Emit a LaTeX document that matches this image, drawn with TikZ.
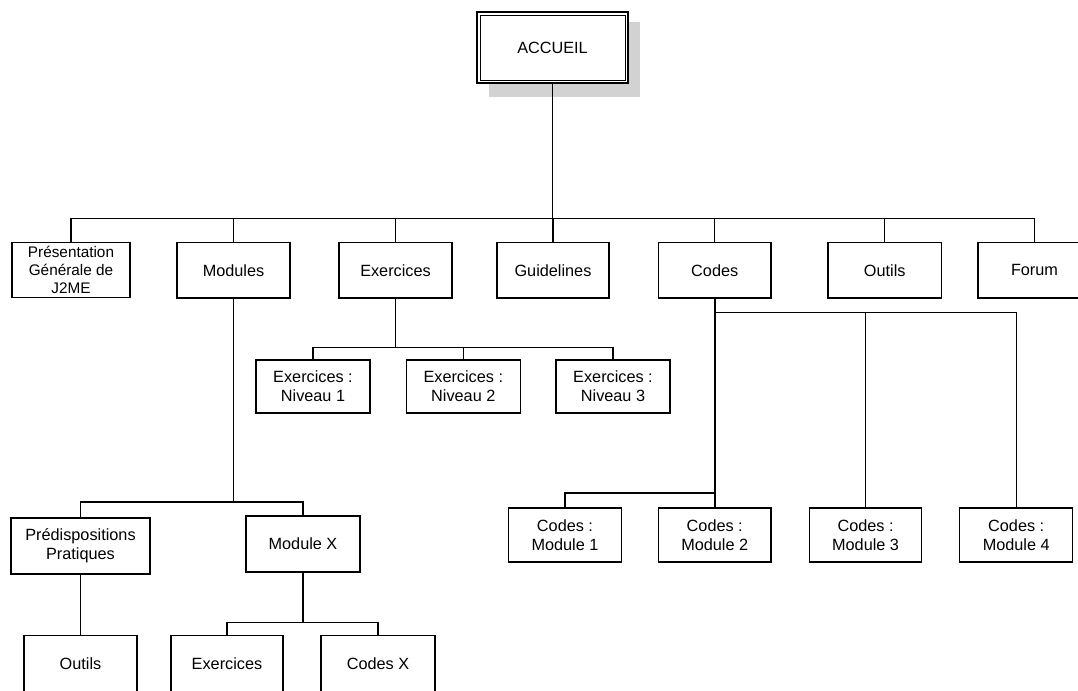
\documentclass[tikz,border=0pt]{standalone}
\usepackage{fontspec}
\setmainfont{Liberation Sans}
\begin{document}
\begin{tikzpicture}[x=0.75pt,y=-0.75pt,
  box/.style={draw, line width=0.8pt, inner sep=0pt, align=center,
              font=\fontsize{12.2}{14.25}\selectfont},
  sz/.style 2 args={minimum width=#1*0.75pt, minimum height=#2*0.75pt},
  link/.style={line width=0.85pt},
  trunk/.style={line width=1.45pt}]
\useasboundingbox (0,0) rectangle (1078,690);
\clip (0,0) rectangle (1078,690);

% home page with its drop shadow and double frame
\fill[gray!35] (489,22) rectangle (640,97);
\node[box, sz={151}{71}, line width=1.5pt, fill=white] (acc) at (552.5,47.5) {ACCUEIL};
\draw[line width=0.6pt] ([shift={(4,4)}]acc.north west) rectangle ([shift={(-4,-4)}]acc.south east);

% first level
\node[box, sz={118}{55.5}, font=\fontsize{11.5}{13.7}\selectfont] (pres) at (71,270) {Présentation\\Générale de\\J2ME};
\node[box, sz={113}{55.5}] (mod)    at (233.5,270.25) {Modules};
\node[box, sz={113}{55.5}] (exe)    at (395.5,270.25) {Exercices};
\node[box, sz={112}{55.5}] (gui)    at (553,270.25)   {Guidelines};
\node[box, sz={112.5}{55.5}] (codes) at (714.75,270.25) {Codes};
\node[box, sz={113.5}{55.5}] (outils) at (884.75,270.25) {Outils};
\node[box, sz={113}{55.5}] (forum)  at (1034.5,270.25) {Forum};

% exercise levels
\node[box, sz={114}{53}] (en1) at (313,386.5)   {Exercices :\\Niveau 1};
\node[box, sz={114}{53}] (en2) at (463.3,386.5) {Exercices :\\Niveau 2};
\node[box, sz={114}{53}] (en3) at (613,386.5)   {Exercices :\\Niveau 3};

% modules branch
\node[box, sz={139}{56}] (pred) at (80.5,546) {Prédispositions\\Pratiques};
\node[box, sz={114}{56}] (modx) at (303,544)  {Module X};
\node[box, sz={113}{56}] (out2) at (80.5,663.5) {Outils};
\node[box, sz={112}{56}] (ex2)  at (227,663.5)  {Exercices};
\node[box, sz={114}{56}] (cx)   at (378,663.5)  {Codes X};

% code samples per module
\node[box, sz={112.5}{54}] (cm1) at (565,535)     {Codes :\\Module 1};
\node[box, sz={112.5}{54}] (cm2) at (714.75,535)  {Codes :\\Module 2};
\node[box, sz={112.5}{54}] (cm3) at (865.6,535)   {Codes :\\Module 3};
\node[box, sz={112.5}{54}] (cm4) at (1016.2,535)  {Codes :\\Module 4};

% main bus
\coordinate (bus) at (552.5,218.5);
\draw[trunk] (acc.south) -- (bus);
\draw[link] (pres.north) |- (bus) -| (forum.north);
\foreach \n in {mod,exe,gui,codes,outils}
  \draw[link] (\n.north) -- (\n.north |- bus);

% exercises bus
\coordinate (ebus) at (395.5,347.3);
\draw[trunk] (exe.south) -- (ebus);
\draw[link] (en1.north) |- (ebus) -| (en3.north);
\draw[link] (en2.north) -- (en2.north |- ebus);

% modules bus
\coordinate (mbus) at (233.5,502);
\draw[trunk] (mod.south) -- (mbus);
\draw[link] (pred.north) |- (mbus) -| (modx.north);
\draw[link] (pred.south) -- (out2.north);
\coordinate (xbus) at (303,622.7);
\draw[link] (modx.south) -- (xbus);
\draw[link] (ex2.north) |- (xbus) -| (cx.north);

% codes buses
\coordinate (cbus1) at (714.75,312.3);
\coordinate (cbus2) at (714.75,493);
\draw[trunk] (codes.south) -- (cm2.north);
\draw[link] (cbus1) -| (cm4.north);
\draw[link] (cm3.north) -- (cm3.north |- cbus1);
\draw[link] (cm1.north) |- (cbus2);
\end{tikzpicture}
\end{document}
